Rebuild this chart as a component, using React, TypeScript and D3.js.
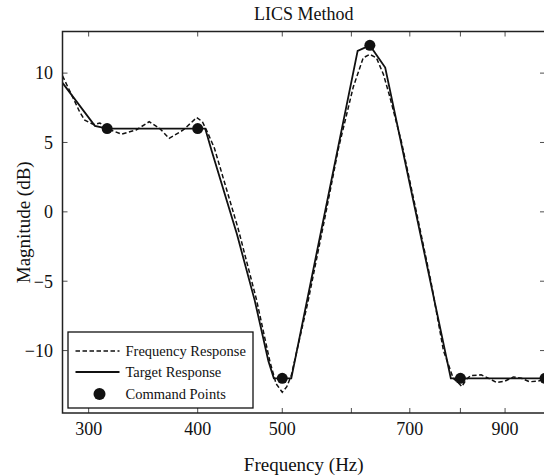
import React from "react";
import * as d3 from "d3";

const targetFreq = [280, 305, 315, 400, 408, 415, 443.6, 465, 482, 489, 500, 512, 610, 630, 656, 780, 800, 1000];
const targetDb = [9.3, 6.2, 6, 6, 6, 4.4, -1.6, -6.4, -10.75, -12, -12, -12, 11.6, 12, 10.4, -12, -12, -12];

const respFreq = [280, 287, 293, 297, 304, 309, 318, 327, 340, 352, 362, 371, 385, 399, 405, 410, 418, 445, 467, 484, 492, 500, 506, 512, 535, 560, 580, 603, 619, 630, 641, 653, 664, 685, 715, 740, 765, 785, 795, 803, 812, 822, 845, 862, 880, 900, 920, 940, 960, 980, 1000];
const respDb = [9.8, 8.4, 7.2, 6.6, 6.3, 6.4, 5.9, 5.6, 5.9, 6.5, 6.0, 5.3, 5.9, 6.8, 6.5, 5.8, 4.6, -1.2, -6.3, -10.8, -12.4, -13.0, -12.6, -11.8, -6.5, -0.3, 4.6, 9.0, 11.1, 11.35, 11.1, 9.9, 8.3, 5.0, -0.5, -5.0, -10.0, -12.0, -12.3, -12.6, -12.1, -11.8, -11.75, -12.0, -12.3, -12.2, -11.9, -12.0, -12.25, -12.2, -12.1];

const cmdFreq = [315, 400, 500, 630, 800, 1000];
const cmdDb = [6, 6, -12, 12, -12, -12];

const xTicks = [300, 400, 500, 600, 700, 800, 900, 1000];
const xTickLabels = [300, 400, 500, 700, 900];
const yTicks = [-10, -5, 0, 5, 10];

const legendLabels = ["Frequency Response", "Target Response", "Command Points"];

export default function App() {
  const W = 544, H = 475;
  const left = 62.5, right = 545, top = 31.5, bottom = 413;
  const x = d3.scaleLog().domain([280, 1000]).range([left, right]);
  const y = d3.scaleLinear().domain([-14.5, 13]).range([bottom, top]);
  const font = "'Liberation Serif', 'Times New Roman', serif";

  const mk = (fs: number[], ds: number[]) =>
    d3.line<number>().x((f) => x(f)).y((_, i) => y(ds[i]))(fs) || "";

  const tl = 5;
  const fmt = (v: number) => (v < 0 ? "\u2212" + Math.abs(v) : String(v));
  const legY = [351, 372, 394];

  return (
    <svg width={W} height={H} style={{ position: "absolute", left: 0, top: 0, background: "#fff" }} fontFamily={font}>
      <defs>
        <clipPath id="clip">
          <rect x={left} y={top} width={right - left} height={bottom - top} />
        </clipPath>
      </defs>
      <rect x={0} y={0} width={W} height={H} fill="#fff" />
      <text x={(left + right) / 2} y={20} textAnchor="middle" fontSize={18} fill="#111">LICS Method</text>
      <g clipPath="url(#clip)">
        <path d={mk(respFreq, respDb)} fill="none" stroke="#111" strokeWidth={1.5} strokeDasharray="4.5,2.5" />
        <path d={mk(targetFreq, targetDb)} fill="none" stroke="#111" strokeWidth={1.8} />
        {cmdFreq.map((f, i) => (
          <circle key={i} cx={x(f)} cy={y(cmdDb[i])} r={5.5} fill="#111" />
        ))}
      </g>
      <rect x={left} y={top} width={right - left} height={bottom - top} fill="none" stroke="#222" strokeWidth={1.5} />
      {xTicks.map((t) => (
        <g key={"xt" + t}>
          <line x1={x(t)} x2={x(t)} y1={bottom} y2={bottom - tl} stroke="#222" strokeWidth={0.8} />
          <line x1={x(t)} x2={x(t)} y1={top} y2={top + tl} stroke="#222" strokeWidth={0.8} />
        </g>
      ))}
      {xTickLabels.map((t) => (
        <text key={"xl" + t} x={x(t)} y={434.5} textAnchor="middle" fontSize={18} fill="#111">{t}</text>
      ))}
      {yTicks.map((t) => (
        <g key={"yt" + t}>
          <line x1={left} x2={left + tl} y1={y(t)} y2={y(t)} stroke="#222" strokeWidth={0.8} />
          <line x1={right} x2={right - tl} y1={y(t)} y2={y(t)} stroke="#222" strokeWidth={0.8} />
          <text x={53} y={y(t)} dy="0.35em" textAnchor="end" fontSize={18} fill="#111">{fmt(t)}</text>
        </g>
      ))}
      <text x={(left + right) / 2} y={471} textAnchor="middle" fontSize={19} fill="#111">Frequency (Hz)</text>
      <text transform={`translate(23, ${(top + bottom) / 2}) rotate(-90)`} textAnchor="middle" dy="0.35em" fontSize={19} fill="#111">Magnitude (dB)</text>
      <g>
        <rect x={68} y={332} width={185} height={76} fill="#fff" stroke="#111" strokeWidth={1.3} />
        <line x1={75.5} x2={119.5} y1={legY[0]} y2={legY[0]} stroke="#111" strokeWidth={1.5} strokeDasharray="4.5,2.5" />
        <line x1={75.5} x2={119.5} y1={legY[1]} y2={legY[1]} stroke="#111" strokeWidth={1.8} />
        <circle cx={99.5} cy={legY[2]} r={6} fill="#111" />
        {legendLabels.map((l, i) => (
          <text key={l} x={125.5} y={legY[i]} dy="0.35em" fontSize={14.5} fill="#111">{l}</text>
        ))}
      </g>
    </svg>
  );
}
